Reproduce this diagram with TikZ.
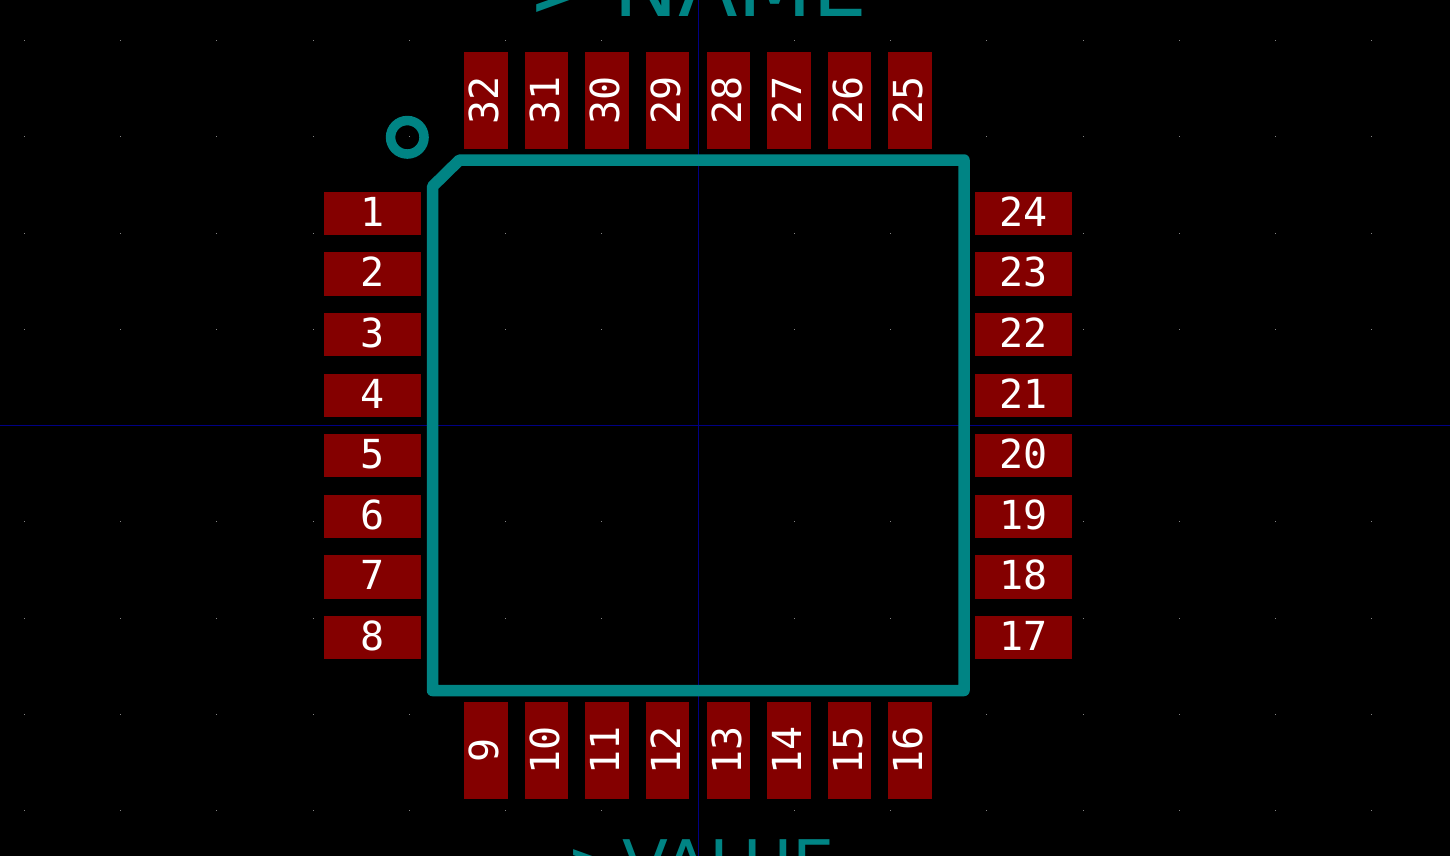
\documentclass[tikz,border=0pt]{standalone}
\usepackage{fontspec}
\setmonofont{DejaVu Sans Mono}
\setsansfont{DejaVu Sans}
\definecolor{silk}{RGB}{0,132,132}
\definecolor{copper}{RGB}{132,0,0}
\definecolor{axisblue}{RGB}{0,0,132}
\definecolor{griddot}{RGB}{132,132,132}

\begin{document}
\begin{tikzpicture}[x=1pt,y=-1pt,
    hpad/.style={fill=copper,minimum width=97pt,minimum height=43.5pt,inner sep=0pt,
      text=white,text depth=4pt,font=\ttfamily\fontsize{40}{40}\selectfont},
    vpad/.style={hpad,rotate=90},
    silkline/.style={draw=silk,line width=11.5pt,line cap=round,line join=round},
    silktext/.style={text=silk,anchor=base west,inner sep=0pt}]
  \path[use as bounding box,fill=black] (0,0) rectangle (1450,856);
  \clip (0,0) rectangle (1450,856);
  \foreach \i in {0,...,14}
    \foreach \j in {0,...,8} {
      \pgfmathsetmacro{\dotx}{floor(24.3+96.25*\i)}
      \pgfmathsetmacro{\doty}{round(40.2+96.25*\j)}
      \fill[griddot] (\dotx,\doty) rectangle ++(1,1);
    }
  \draw[axisblue,line width=1pt] (0,425.5) -- (1450,425.5);
  \draw[axisblue,line width=1pt] (698.5,0) -- (698.5,856);

  \node[hpad] (pad1) at (372.5,213.5) {1};
  \node[hpad] (pad2) at (372.5,274) {2};
  \node[hpad] (pad3) at (372.5,334.5) {3};
  \node[hpad] (pad4) at (372.5,395.5) {4};
  \node[hpad] (pad5) at (372.5,455.5) {5};
  \node[hpad] (pad6) at (372.5,516.5) {6};
  \node[hpad] (pad7) at (372.5,577) {7};
  \node[hpad] (pad8) at (372.5,637.5) {8};

  \node[vpad] (pad9) at (486,750.5) {9};
  \node[vpad] (pad10) at (546.5,750.5) {10};
  \node[vpad] (pad11) at (607,750.5) {11};
  \node[vpad] (pad12) at (667.5,750.5) {12};
  \node[vpad] (pad13) at (728.5,750.5) {13};
  \node[vpad] (pad14) at (789,750.5) {14};
  \node[vpad] (pad15) at (849.5,750.5) {15};
  \node[vpad] (pad16) at (910,750.5) {16};

  \node[hpad] (pad17) at (1023.5,637.5) {17};
  \node[hpad] (pad18) at (1023.5,577) {18};
  \node[hpad] (pad19) at (1023.5,516.5) {19};
  \node[hpad] (pad20) at (1023.5,455.5) {20};
  \node[hpad] (pad21) at (1023.5,395.5) {21};
  \node[hpad] (pad22) at (1023.5,334.5) {22};
  \node[hpad] (pad23) at (1023.5,274) {23};
  \node[hpad] (pad24) at (1023.5,213.5) {24};

  \node[vpad] (pad25) at (910,100.5) {25};
  \node[vpad] (pad26) at (849.5,100.5) {26};
  \node[vpad] (pad27) at (789,100.5) {27};
  \node[vpad] (pad28) at (728.5,100.5) {28};
  \node[vpad] (pad29) at (667.5,100.5) {29};
  \node[vpad] (pad30) at (607,100.5) {30};
  \node[vpad] (pad31) at (546.5,100.5) {31};
  \node[vpad] (pad32) at (486,100.5) {32};

  \draw[silkline] (432.5,186.5) -- (459.5,160) -- (964,160) -- (964,690.5) -- (432.5,690.5) -- cycle;
  \node[circle,draw=silk,line width=9.5pt,minimum size=33.5pt,inner sep=0pt,outer sep=0pt] (pin1mark) at (407.3,137.3) {};

  \node[silktext,font=\sffamily\fontsize{87}{87}\selectfont] (name) at (527,16.5) {>\kern 13pt NAME};
  \node[silktext,font=\sffamily\fontsize{67}{67}\selectfont] (value) at (566,888) {>VALUE};
\end{tikzpicture}
\end{document}
